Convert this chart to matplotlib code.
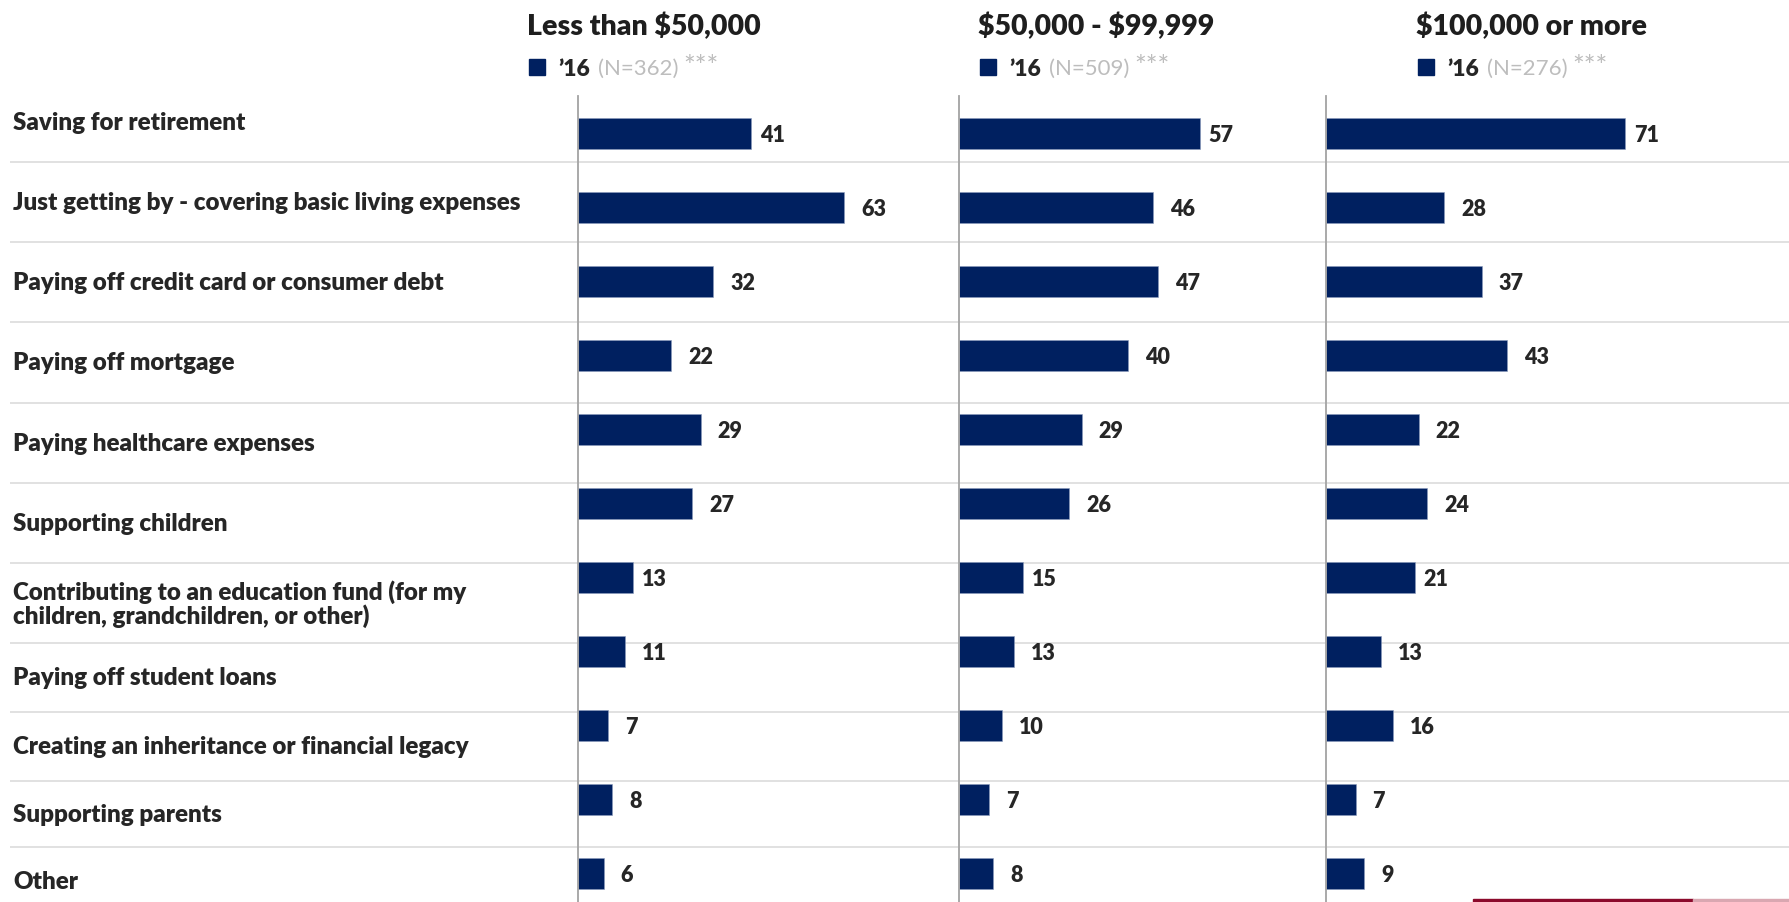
import matplotlib.pyplot as plt
from matplotlib.patches import Rectangle

plt.rcParams['font.family'] = ['Lato', 'DejaVu Sans']
plt.rcParams['text.parse_math'] = False

# Data
categories = [
    "Saving for retirement",
    "Just getting by - covering basic living expenses",
    "Paying off credit card or consumer debt",
    "Paying off mortgage",
    "Paying healthcare expenses",
    "Supporting children",
    "Contributing to an education fund (for my\nchildren, grandchildren, or other)",
    "Paying off student loans",
    "Creating an inheritance or financial legacy",
    "Supporting parents",
    "Other",
]
values_lt_50k = [41, 63, 32, 22, 29, 27, 13, 11, 7, 8, 6]
values_50k_100k = [57, 46, 47, 40, 29, 26, 15, 13, 10, 7, 8]
values_100k_plus = [71, 28, 37, 43, 22, 24, 21, 13, 16, 7, 9]
panel_titles = ["Less than $50,000", "$50,000 - $99,999", "$100,000 or more"]
sample_sizes = [362, 509, 276]
legend_year = "\u201916"
significance = "***"

# Layout (pixels in a 1790x903 canvas)
W, H = 1790, 903
navy = "#002060"
dark = "#262626"
heavy = "heavy"
px_per_unit = 4.215
axis_top = 97
first_bar_y = 134.5
bar_step = 74.0
panel_x = [578.5, 959.5, 1326.0, 1790.0]
title_x = [527, 978, 1416]
separators = [162.7, 243.0, 323.3, 403.7, 484.0, 564.3, 644.3, 712.7, 781.7, 848.3]
label_pad = [6.5 if i in (0, 6) else 12.2 for i in range(len(categories))]

fig = plt.figure(figsize=(W / 100, H / 100), dpi=100)

# background layer: row separators, row labels, headers
bg = fig.add_axes([0, 0, 1, 1])
bg.set_xlim(0, W)
bg.set_ylim(H, 0)
bg.axis("off")

for y in separators:
    bg.plot([10, W], [y, y], color="#dedede", lw=1.3, solid_capstyle="butt")

row_edges = [82.4] + separators + [915.0]
for i, cat in enumerate(categories):
    yc = (row_edges[i] + row_edges[i + 1]) / 2
    bg.text(13, yc, cat, ha="left", va="center", fontsize=17.4, fontweight=heavy,
            color=dark, linespacing=1.0)

for k, title in enumerate(panel_titles):
    tx = title_x[k]
    bg.text(tx, 26, title, ha="left", va="center", fontsize=20.5, fontweight=heavy,
            color="#1e1e1e")
    bg.add_patch(Rectangle((tx + 2, 60), 16, 16, color=navy))
    bg.text(tx + 31, 69, legend_year, ha="left", va="center", fontsize=16.5,
            fontweight=heavy, color=dark)
    bg.text(tx + 71, 69, f"(N={sample_sizes[k]})", ha="left", va="center",
            fontsize=16, color="#bdbdbd")
    bg.text(tx + 156, 68, significance, ha="left", va="center", fontsize=20,
            color="#bdbdbd")

# decorative footer strip
bg.add_patch(Rectangle((1473, 900), 220, 3, color="#8c0a2c"))
bg.add_patch(Rectangle((1693, 900), 97, 3, color="#d9a7b1"))

# bar panels
all_values = [values_lt_50k, values_50k_100k, values_100k_plus]
y_top = (axis_top - first_bar_y) / bar_step
y_bot = (H - first_bar_y) / bar_step
for k, vals in enumerate(all_values):
    x0, x1 = panel_x[k], panel_x[k + 1]
    ax = fig.add_axes([x0 / W, 0, (x1 - x0) / W, (H - axis_top) / H])
    ax.patch.set_visible(False)
    ax.set_xlim(0, (x1 - x0) / px_per_unit)
    ax.set_ylim(y_bot, y_top)
    ypos = list(range(len(vals)))
    ax.barh(ypos, vals, height=0.42, color=navy, edgecolor="#8a9bbd", linewidth=0.4)
    for i, v in enumerate(vals):
        ax.annotate(str(v), (v, i), xytext=(label_pad[i], -1), textcoords="offset points",
                    ha="left", va="center", fontsize=15.5, fontweight=heavy, color=dark)
    for s in ["top", "right", "bottom"]:
        ax.spines[s].set_visible(False)
    ax.spines["left"].set_color("#a3a3a3")
    ax.spines["left"].set_linewidth(1.3)
    ax.set_xticks([])
    ax.set_yticks([])

fig.savefig("out.png", dpi=100)
